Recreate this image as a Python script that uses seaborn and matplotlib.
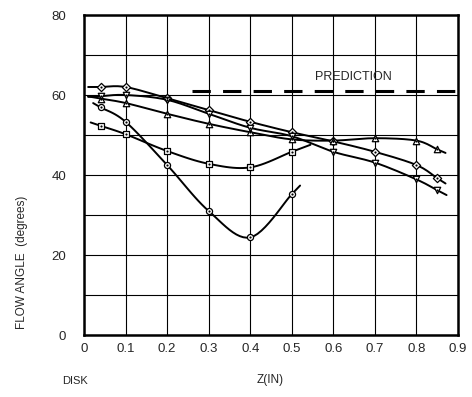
import numpy as np
import pandas as pd
import matplotlib
matplotlib.use("Agg")
import matplotlib.pyplot as plt
import seaborn as sns

# ---- data ----
z_long = [0.04, 0.1, 0.2, 0.3, 0.4, 0.5, 0.6, 0.7, 0.8, 0.85]
diamond = [62.0, 62.0, 59.2, 56.2, 53.3, 50.7, 48.4, 45.8, 42.5, 39.2]
tri_up = [59.1, 58.0, 55.3, 52.8, 50.7, 48.9, 48.6, 49.2, 48.6, 46.4]
tri_down = [59.7, 60.0, 58.8, 55.3, 51.8, 49.7, 45.8, 43.1, 38.9, 36.2]
z_short = [0.04, 0.1, 0.2, 0.3, 0.4, 0.5]
square = [52.3, 50.2, 46.0, 42.8, 41.9, 45.8]
circle = [56.9, 53.3, 42.5, 31.0, 24.4, 35.2]
prediction_x = [0.26, 0.9]
prediction_y = [61.0, 61.0]
x_ticks = [0, 0.1, 0.2, 0.3, 0.4, 0.5, 0.6, 0.7, 0.8, 0.9]
x_labels = ["0", "0.1", "0.2", "0.3", "0.4", "0.5", "0.6", "0.7", "0.8", "0.9"]
y_ticks = [0, 20, 40, 60, 80]
y_labels = ["0", "20", "40", "60", "80"]

sns.set_style("white")
plt.rcParams['font.family'] = ['Liberation Sans', 'DejaVu Sans']

fig = plt.figure(figsize=(4.72, 3.97), dpi=100)
ax = fig.add_axes([84/472, 62/397, 374/472, 320/397])


def smooth(xs, ys, tail_l, tail_r, n=12):
    xs = np.asarray(xs, float); ys = np.asarray(ys, float)
    x0 = xs[0] - tail_l * (xs[1] - xs[0]); y0 = ys[0] - tail_l * (ys[1] - ys[0])
    x1 = xs[-1] + tail_r * (xs[-1] - xs[-2]); y1 = ys[-1] + tail_r * (ys[-1] - ys[-2])
    P = np.column_stack([np.r_[x0, xs, x1], np.r_[y0, ys, y1]])
    Q = np.vstack([2*P[0]-P[1], P, 2*P[-1]-P[-2]])
    out = []
    for i in range(1, len(Q) - 2):
        p0, p1, p2, p3 = Q[i-1], Q[i], Q[i+1], Q[i+2]
        for t in np.linspace(0, 1, n, endpoint=False):
            t2, t3 = t*t, t*t*t
            out.append(0.5*((2*p1) + (-p0+p2)*t + (2*p0-5*p1+4*p2-p3)*t2 + (-p0+3*p1-3*p2+p3)*t3))
    out.append(Q[-2])
    out = np.array(out)
    return out[:, 0], out[:, 1]


series = [
    (z_long, diamond, "D", 4.2, 0.5, 0.4),
    (z_long, tri_up, "^", 4.6, 0.5, 0.4),
    (z_long, tri_down, "v", 4.6, 0.5, 0.45),
    (z_short, square, "s", 4.2, 0.4, 0.45),
    (z_short, circle, "o", 4.4, 0.3, 0.2),
]

for xs, ys, mk, ms, tl, tr in series:
    sx, sy = smooth(xs, ys, tl, tr)
    sns.lineplot(x=sx, y=sy, ax=ax, color="black", lw=1.4, sort=False,
                 estimator=None, zorder=3)
    df = pd.DataFrame({"z": xs, "a": ys})
    sns.scatterplot(data=df, x="z", y="a", ax=ax, marker=mk, s=ms**2,
                    facecolor="white", edgecolor="black", linewidth=0.9, zorder=4)
    sns.scatterplot(data=df, x="z", y="a", ax=ax, marker="o", s=2.5,
                    color="black", linewidth=0, zorder=5)

ax.plot(prediction_x, prediction_y, color="black", lw=2.2,
        dashes=(6, 4), zorder=3)
ax.text(0.648, 64.4, "PREDICTION", fontsize=9, ha="center", va="center")

ax.set_xlim(0, 0.9)
ax.set_ylim(0, 80)
ax.set_xticks(x_ticks, labels=x_labels)
ax.set_yticks(y_ticks, labels=y_labels)
ax.set_yticks(np.arange(0, 81, 10), minor=True)
ax.grid(True, which="both", color="black", lw=0.8)
ax.tick_params(axis="both", which="both", length=0, labelsize=9.5)
ax.tick_params(axis="x", pad=6)
ax.tick_params(axis="y", pad=13)
for sp in ax.spines.values():
    sp.set_visible(True)
    sp.set_color("black")
    sp.set_linewidth(1.8)
ax.set_xlabel("")
ax.set_ylabel("")

fig.text(22/472, 1 - 262/397, "FLOW ANGLE  (degrees)", rotation=90,
         ha="center", va="center", fontsize=8.5)
fig.text(270/472, 1 - 380/397, "Z(IN)", ha="center", va="center",
         fontsize=8.5)
fig.text(75/472, 1 - 381/397, "DISK", ha="center", va="center",
         fontsize=8)

fig.savefig("out.png", dpi=100)
